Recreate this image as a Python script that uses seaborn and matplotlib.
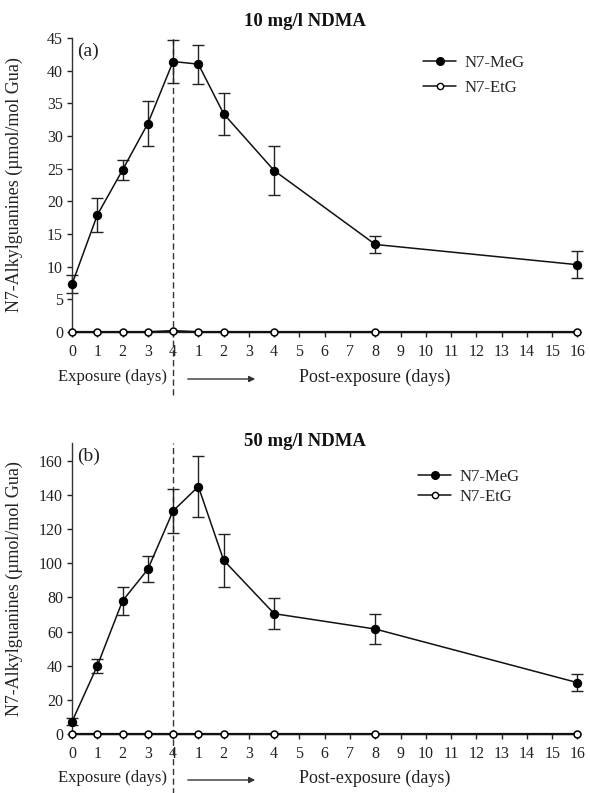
import matplotlib
matplotlib.use("Agg")
import matplotlib.pyplot as plt
import matplotlib.transforms as mtransforms
from matplotlib.lines import Line2D
import numpy as np
import pandas as pd
import seaborn as sns

# ---------------- data ----------------
tick_labels = ["0", "1", "2", "3", "4", "1", "2", "3", "4", "5", "6", "7", "8",
               "9", "10", "11", "12", "13", "14", "15", "16"]
# sampling days, as position on the broken axis (0-4 exposure, then post-exposure 1..16 -> 5..20)
sample_pos = [0, 1, 2, 3, 4, 5, 6, 8, 12, 20]

meg_10 = [7.3, 17.9, 24.8, 31.9, 41.4, 41.0, 33.4, 24.7, 13.4, 10.3]
meg_10_err = [1.4, 2.6, 1.6, 3.5, 3.3, 3.0, 3.2, 3.7, 1.3, 2.1]
etg_10 = [0.0, 0.0, 0.0, 0.0, 0.15, 0.0, 0.0, 0.0, 0.0, 0.0]

meg_50 = [7.2, 39.9, 78.0, 96.5, 130.7, 145.0, 101.8, 70.5, 61.5, 30.1]
meg_50_err = [2.0, 4.3, 8.3, 7.5, 13.0, 17.6, 15.4, 9.0, 8.8, 4.8]
etg_50 = [0.0, 0.0, 0.0, 0.0, 0.0, 0.0, 0.0, 0.0, 0.0, 0.0]

titles = ["10 mg/l NDMA", "50 mg/l NDMA"]
panel_tags = ["(a)", "(b)"]
series_names = ["N7-MeG", "N7-EtG"]
ylabel = "N7-Alkylguanines (\u00b5mol/mol Gua)"

# ---------------- style ----------------
sns.set_theme(style="ticks")
plt.rcParams["font.family"] = ["Liberation Serif", "DejaVu Serif"]
plt.rcParams["mathtext.fontset"] = "stix"

W, H = 590, 793
fig = plt.figure(figsize=(W / 100, H / 100), dpi=100)


def fx(px):
    return px / W


def fy(py):
    return 1 - py / H


panels = [
    dict(top=38, bot=332, ymax=45, yticks=np.arange(0, 46, 5), meg=meg_10, err=meg_10_err,
         etg=etg_10, dash_bottom=395, title_y=22, text_y=377, leg_top=55, leg_x=423,
         leg_space=0.55),
    dict(top=443, bot=734, ymax=170.5, yticks=np.arange(0, 161, 20), meg=meg_50, err=meg_50_err,
         etg=etg_50, dash_bottom=800, title_y=442, text_y=778, leg_top=469, leg_x=418,
         leg_space=0.25),
]

left_px, right_px = 72, 580

for i, p in enumerate(panels):
    ax = fig.add_axes([fx(left_px), fy(p["bot"]), fx(right_px - left_px), (p["bot"] - p["top"]) / H])
    df = pd.DataFrame({
        "pos": sample_pos * 2,
        "value": list(p["meg"]) + list(p["etg"]),
        "series": [series_names[0]] * len(sample_pos) + [series_names[1]] * len(sample_pos),
    })
    # error bars for N7-MeG
    ax.errorbar(sample_pos, p["meg"], yerr=p["err"], fmt="none", ecolor="#222222",
                elinewidth=1.0, capsize=4, capthick=1.0, zorder=2, clip_on=False)
    sns.lineplot(data=df[df.series == series_names[0]], x="pos", y="value", ax=ax,
                 color="#111111", linewidth=1.1, marker="o", markersize=6,
                 markerfacecolor="black", markeredgecolor="black", zorder=3,
                 clip_on=False, legend=False)
    sns.lineplot(data=df[df.series == series_names[1]], x="pos", y="value", ax=ax,
                 color="#111111", linewidth=1.6, marker="o", markersize=5,
                 markerfacecolor="white", markeredgecolor="black", markeredgewidth=1.1,
                 zorder=4, clip_on=False, legend=False)

    ax.set_xlim(0, 20.1)
    ax.set_ylim(0, p["ymax"])
    ax.set_xticks(range(len(tick_labels)))
    ax.set_xticklabels(tick_labels)
    ax.set_yticks(p["yticks"])
    ax.tick_params(axis="both", labelsize=11.5, colors="#222222", width=1.0, length=3.5,
                   direction="out", pad=3)
    ax.tick_params(axis="x", pad=5)
    for sp in ["top", "right"]:
        ax.spines[sp].set_visible(False)
    for sp in ["left", "bottom"]:
        ax.spines[sp].set_color("#333333")
        ax.spines[sp].set_linewidth(1.0)
    ax.set_xlabel("")
    ax.set_ylabel(ylabel, fontsize=13, color="#222222")
    ax.yaxis.set_label_coords((23 - left_px) / (right_px - left_px), 0.5)

    # dashed separator, extending below the axis
    trans = mtransforms.blended_transform_factory(ax.transData, ax.transAxes)
    ybot = (p["bot"] - p["dash_bottom"]) / (p["bot"] - p["top"])
    ax.plot([4, 4], [ybot, 1.0], transform=trans, color="#333333", linewidth=1.0,
            linestyle=(0, (4.5, 2.5)), clip_on=False, zorder=1)

    # panel tag
    ax.text(0.01, 0.985, panel_tags[i], transform=ax.transAxes, fontsize=14,
            va="top", ha="left", color="#222222")

    # legend
    handles = [
        Line2D([], [], color="#111111", linewidth=1.1, marker="o", markersize=5.5,
               markerfacecolor="black", markeredgecolor="black"),
        Line2D([], [], color="#111111", linewidth=1.1, marker="o", markersize=4.5,
               markerfacecolor="white", markeredgecolor="black"),
    ]
    leg_x = (p["leg_x"] - left_px) / (right_px - left_px)
    leg_y = (p["bot"] - p["leg_top"]) / (p["bot"] - p["top"])
    ax.legend(handles, series_names, loc="upper left", bbox_to_anchor=(leg_x, leg_y),
              frameon=False, fontsize=12, handlelength=2.0, handletextpad=0.5,
              borderpad=0, borderaxespad=0, labelspacing=p["leg_space"])

    # title
    fig.text(fx(305), fy(p["title_y"]), titles[i], ha="center", va="center",
             fontsize=13.5, fontweight="bold", color="#111111")

    # exposure / post-exposure annotations
    fig.text(fx(113), fy(p["text_y"]), "Exposure (days)", ha="center", va="center",
             fontsize=12, color="#222222")
    fig.text(fx(375), fy(p["text_y"]), "Post-exposure (days)", ha="center", va="center",
             fontsize=13, color="#222222")
    fig.add_artist(matplotlib.patches.FancyArrowPatch(
        (fx(185), fy(p["text_y"] + 2)), (fx(258), fy(p["text_y"] + 2)),
        transform=fig.transFigure, arrowstyle="-|>", mutation_scale=9,
        color="#333333", linewidth=1.0))

fig.savefig("out.png", dpi=100, facecolor="white")
